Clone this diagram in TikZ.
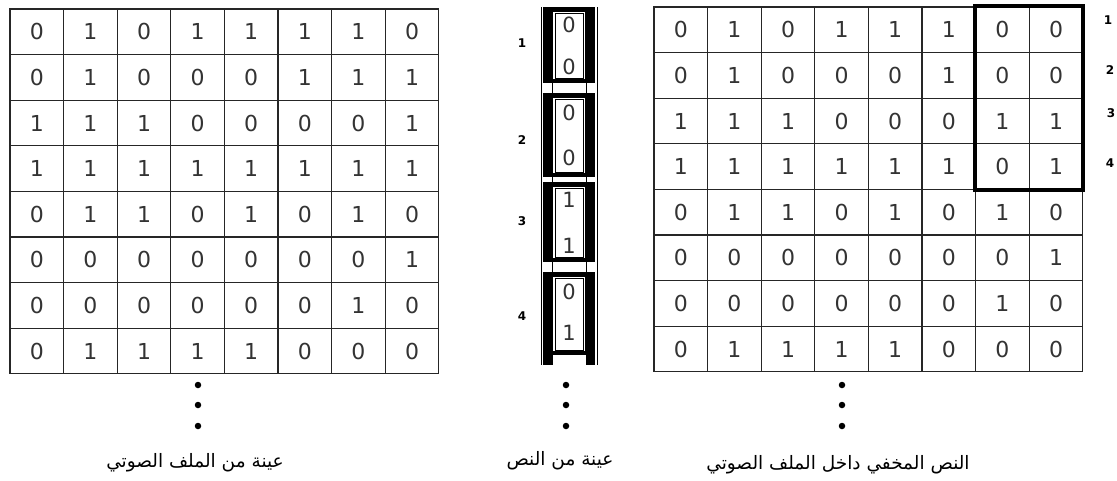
\documentclass[tikz,border=0pt]{standalone}
\usepackage{fontspec}
\setmainfont{DejaVu Sans}
\newfontfamily\arabicfont[Script=Arabic]{DejaVu Sans}
\TeXXeTstate=1
\usepackage{tikz}

\begin{document}
\begin{tikzpicture}[x=1pt,y=-1pt,
  cell/.style={draw=black!85,line width=1.3pt,minimum width=53.6pt,minimum height=45.6pt,
    inner sep=0pt,text=black!80,font=\fontsize{22}{22}\selectfont},
  bit/.style={inner sep=0pt,text=black!80,font=\fontsize{21}{21}\selectfont},
  idx/.style={inner sep=0pt,font=\bfseries\fontsize{12}{12}\selectfont},
  caption/.style={inner sep=0pt,font=\arabicfont\fontsize{18.5}{18.5}\selectfont},
  dot/.style={circle,fill=black,inner sep=0pt,minimum size=6.5pt}]
  \useasboundingbox (0,0) rectangle (1117,480);

  % audio sample
  \foreach \row [count=\r] in {{0,1,0,1,1,1,1,0},{0,1,0,0,0,1,1,1},{1,1,1,0,0,0,0,1},
      {1,1,1,1,1,1,1,1},{0,1,1,0,1,0,1,0},{0,0,0,0,0,0,0,1},{0,0,0,0,0,0,1,0},{0,1,1,1,1,0,0,0}}
    \foreach \v [count=\c] in \row
      \node[cell] (l-\r-\c) at ({10+(\c-0.5)*53.6},{9+(\r-0.5)*45.6}) {\v};

  % audio with hidden text
  \foreach \row [count=\r] in {{0,1,0,1,1,1,0,0},{0,1,0,0,0,1,0,0},{1,1,1,0,0,0,1,1},
      {1,1,1,1,1,1,0,1},{0,1,1,0,1,0,1,0},{0,0,0,0,0,0,0,1},{0,0,0,0,0,0,1,0},{0,1,1,1,1,0,0,0}}
    \foreach \v [count=\c] in \row
      \node[cell] (h-\r-\c) at ({654+(\c-0.5)*53.6},{7+(\r-0.5)*45.6}) {\v};
  \draw[line width=4pt] (h-1-7.north west) rectangle (h-4-8.south east);

  % text strip
  \draw[thin] (541,7) -- (541,365) (597,7) -- (597,365);
  \draw[thin] (552,7) -- (552,365) (586,7) -- (586,365);
  \foreach \top/\bot in {7/83,93/177,182/262,272/355} {
    \fill (543,\top) rectangle (595,\bot);
    \fill[white] (553,\top+5) rectangle (585,\bot-4);
    \draw[thin] (555,\top+6) rectangle (583,\bot-5);
  }
  \fill (543,355) rectangle (552,365);
  \fill (586,355) rectangle (595,365);
  \node[bit] (m1a) at (569,25) {0};
  \node[bit] (m1b) at (569,67) {0};
  \node[bit] (m2a) at (569,113) {0};
  \node[bit] (m2b) at (569,158) {0};
  \node[bit] (m3a) at (569,200) {1};
  \node[bit] (m3b) at (569,246) {1};
  \node[bit] (m4a) at (569,292) {0};
  \node[bit] (m4b) at (569,333) {1};

  % pair numbers
  \node[idx] (s1) at (522,43) {1};
  \node[idx] (s2) at (522,140) {2};
  \node[idx] (s3) at (522,221) {3};
  \node[idx] (s4) at (522,316) {4};
  \node[idx] (n1) at (1108,20) {1};
  \node[idx] (n2) at (1110,70) {2};
  \node[idx] (n3) at (1111,113) {3};
  \node[idx] (n4) at (1110,163) {4};

  % continuation dots
  \foreach \x/\name in {198/a,566/b,842/c} {
    \node[dot] (\name1) at (\x,385) {};
    \node[dot] (\name2) at (\x,405) {};
    \node[dot] (\name3) at (\x,426) {};
  }

  \node[caption] (capAudio) at (195,463) {\beginR عينة من الملف الصوتي\endR};
  \node[caption] (capText) at (560,461) {\beginR عينة من النص\endR};
  \node[caption] (capHidden) at (838,465) {\beginR النص المخفي داخل الملف الصوتي\endR};
\end{tikzpicture}
\end{document}
